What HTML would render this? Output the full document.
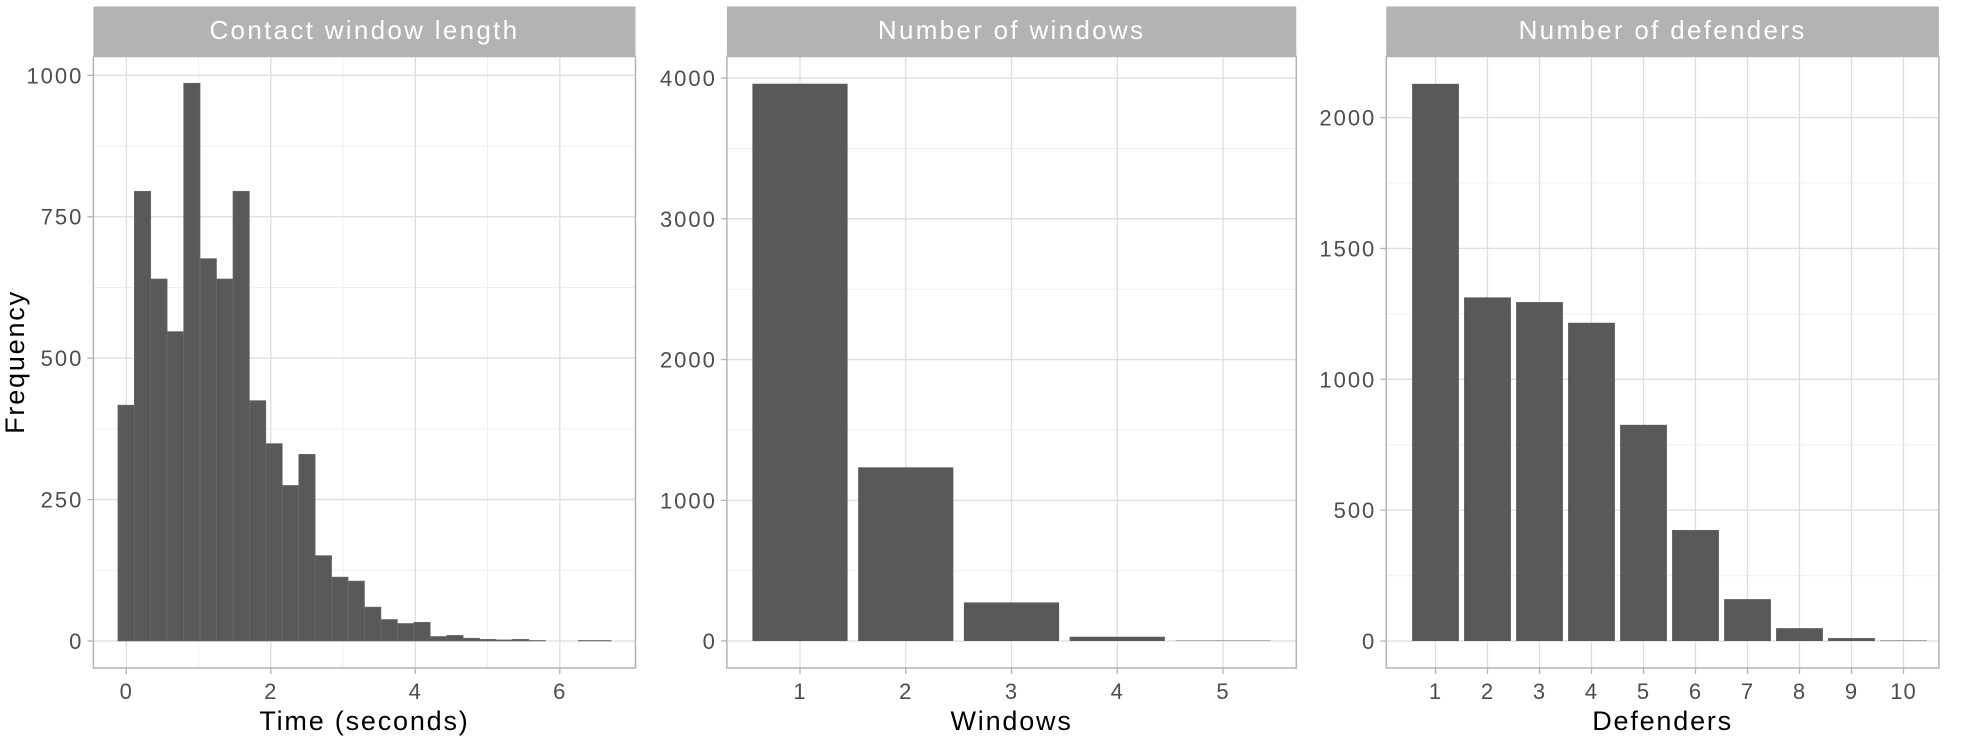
<!DOCTYPE html>
<html><head><meta charset="utf-8"><style>
html,body{margin:0;padding:0;background:#fff;}
svg{display:block;font-family:"Liberation Sans",sans-serif;}
</style></head><body>
<svg id="chart" width="1966" height="738" viewBox="0 0 1966 738" xmlns="http://www.w3.org/2000/svg"></svg>
<script>
// Panel 1: histogram of contact window length
const histStart = -0.117;
const histBinWidth = 0.2276;
const histCounts = [417,795,640,547,986,676,640,795,425,349,275,330,151,113,106,60,38,31,33,8,10,5,3,2,3,1,0,0,1,1];
const p1XTicks = [0,2,4,6];
const p1YTicks = [0,250,500,750,1000];
// Panel 2: number of windows
const windowCats = ['1','2','3','4','5'];
const windowCounts = [3960,1234,274,30,3];
const p2YTicks = [0,1000,2000,3000,4000];
// Panel 3: number of defenders
const defenderCats = ['1','2','3','4','5','6','7','8','9','10'];
const defenderCounts = [2129,1313,1295,1216,826,424,160,49,11,2];
const p3YTicks = [0,500,1000,1500,2000];

const svg = document.getElementById('chart');
const NS = 'http://www.w3.org/2000/svg';
function mk(tag, attrs, parent){
  const e = document.createElementNS(NS, tag);
  for (const k in attrs) e.setAttribute(k, attrs[k]);
  (parent||svg).appendChild(e);
  return e;
}
const PT = 56.5, PB = 668, STRIP_T = 6.5;

function panel(cfg){
  const g = mk('g', {});
  
  
  const xs = v => cfg.x0px + (v - cfg.x0v) * cfg.xUnit;
  const ys = v => cfg.y0px - v * cfg.yUnit;
  const strip = mk('rect', {x:cfg.L, y:STRIP_T, width:cfg.R-cfg.L, height:PT-STRIP_T, fill:'#b3b3b3'}, g);
  
  
  const st = mk('text', {x:(cfg.L+cfg.R)/2, y:39, 'text-anchor':'middle', fill:'#fff', 'font-size':26, 'letter-spacing':2.3}, g);
  st.textContent = cfg.title;
  
  
  for (let i=0;i<cfg.yTicks.length-1;i++){
    const m = (cfg.yTicks[i]+cfg.yTicks[i+1])/2;
    mk('line',{x1:cfg.L,x2:cfg.R,y1:ys(m),y2:ys(m),stroke:'#efefef','stroke-width':1},g);
  }
  if (cfg.minorX) cfg.minorX.forEach(v=>mk('line',{x1:xs(v),x2:xs(v),y1:PT,y2:PB,stroke:'#efefef','stroke-width':1},g));
  cfg.yTicks.forEach(v=>mk('line',{x1:cfg.L,x2:cfg.R,y1:ys(v),y2:ys(v),stroke:'#dedede','stroke-width':1.3},g));
  cfg.xTickVals.forEach(v=>mk('line',{x1:xs(v),x2:xs(v),y1:PT,y2:PB,stroke:'#dedede','stroke-width':1.3},g));
  cfg.bars.forEach(b=>{
    const r = mk('rect',{x:xs(b.x0),y:ys(b.v),width:xs(b.x1)-xs(b.x0),height:ys(0)-ys(b.v),fill:'#595959',stroke:cfg.barStroke||'none','stroke-width':cfg.barStroke?0.6:0},g);
    
    
  });
  mk('rect',{x:cfg.L,y:PT,width:cfg.R-cfg.L,height:PB-PT,fill:'none',stroke:'#b3b3b3','stroke-width':1.5},g);
  cfg.yTicks.forEach(v=>{
    mk('line',{x1:cfg.L-6,x2:cfg.L,y1:ys(v),y2:ys(v),stroke:'#b3b3b3','stroke-width':1.3},g);
    const t = mk('text',{x:cfg.L-10,y:ys(v)+8,'text-anchor':'end',fill:'#4d4d4d','font-size':22,'letter-spacing':2},g);
    t.textContent = v;
    
    
  });
  cfg.xTickVals.forEach((v,i)=>{
    mk('line',{x1:xs(v),x2:xs(v),y1:PB,y2:PB+6,stroke:'#b3b3b3','stroke-width':1.3},g);
    const t = mk('text',{x:xs(v),y:PB+31,'text-anchor':'middle',fill:'#4d4d4d','font-size':22,'letter-spacing':1},g);
    t.textContent = cfg.xTickLabels[i];
    
    
  });
  const xt = mk('text',{x:(cfg.L+cfg.R)/2,y:730,'text-anchor':'middle',fill:'#000','font-size':27,'letter-spacing':1.8},g);
  xt.textContent = cfg.xTitle;
  
  
}

const bars1 = histCounts.map((c,i)=>({x0:histStart+i*histBinWidth,x1:histStart+(i+1)*histBinWidth,v:c,label:'bin-'+(i+1)}));
panel({name:'contact-window-panel',title:'Contact window length',L:93.4,R:635.5,x0px:126.3,x0v:0,xUnit:72.25,y0px:641,yUnit:(641-75.3)/1000,
  yTicks:p1YTicks,xTickVals:p1XTicks,xTickLabels:p1XTicks.map(String),minorX:[1,3,5],bars:bars1,barStroke:'#6e6e6e',xTitle:'Time (seconds)'});
panel({name:'windows-panel',title:'Number of windows',L:726.9,R:1296.3,x0px:800,x0v:1,xUnit:105.75,y0px:641,yUnit:(641-78.1)/4000,
  yTicks:p2YTicks,xTickVals:windowCats.map((c,i)=>i+1),xTickLabels:windowCats,
  bars:windowCounts.map((v,i)=>({x0:i+1-0.45,x1:i+1+0.45,v:v,label:'windows-'+windowCats[i]})),xTitle:'Windows'});
panel({name:'defenders-panel',title:'Number of defenders',L:1386.3,R:1938.9,x0px:1435.5,x0v:1,xUnit:52,y0px:641,yUnit:(641-117.6)/2000,
  yTicks:p3YTicks,xTickVals:defenderCats.map((c,i)=>i+1),xTickLabels:defenderCats,
  bars:defenderCounts.map((v,i)=>({x0:i+1-0.45,x1:i+1+0.45,v:v,label:'defenders-'+defenderCats[i]})),xTitle:'Defenders'});

const yt = mk('text',{x:0,y:0,'text-anchor':'middle',fill:'#000','font-size':27,'letter-spacing':1.8,transform:'translate(24,362) rotate(-90)'});
yt.textContent = 'Frequency';


</script>
</body></html>
